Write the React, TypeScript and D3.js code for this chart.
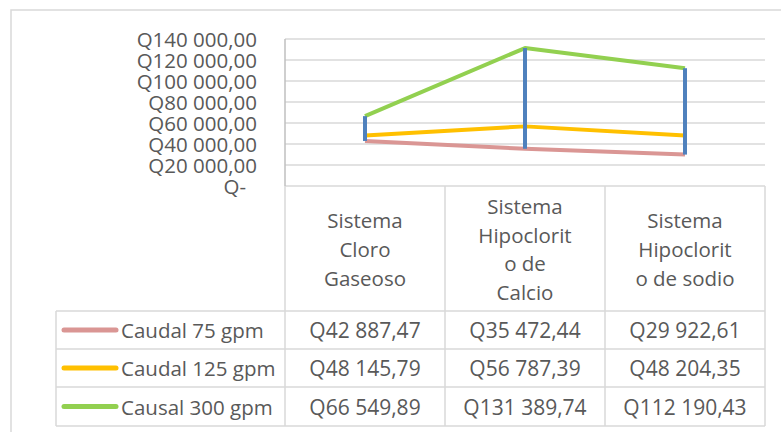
import React from "react";
import * as d3 from "d3";

const categories: string[][] = [
  ["Sistema", "Cloro", "Gaseoso"],
  ["Sistema", "Hipoclorit", "o de", "Calcio"],
  ["Sistema", "Hipoclorit", "o de sodio"],
];
const seriesNames = ["Caudal 75 gpm", "Caudal 125 gpm", "Causal 300 gpm"];
const caudal75 = [42887.47, 35472.44, 29922.61];
const caudal125 = [48145.79, 56787.39, 48204.35];
const causal300 = [66549.89, 131389.74, 112190.43];
const seriesColors = ["#DA9694", "#FFC000", "#92D050"];
const yTicks = [0, 20000, 40000, 60000, 80000, 100000, 120000, 140000];

const W = 781;
const H = 432;
const FONT = "'Open Sans', 'Noto Sans', sans-serif";
const TXT = "#595959";
const GRID = "#D9D9D9";

const locale = d3.formatLocale({
  decimal: ",",
  thousands: " ",
  grouping: [3],
  currency: ["Q", ""],
});
const fmt = locale.format("$,.2f");
const tickFmt = (v: number) => (v === 0 ? "Q-" : fmt(v));

export default function App() {
  const series = [caudal75, caudal125, causal300];
  const plotL = 285;
  const plotR = 765;
  const plotT = 39;
  const plotB = 186;
  const tableL = 56;
  const rowTops = [311, 349, 387, 426];

  const x = d3
    .scaleBand<number>()
    .domain(categories.map((_, i) => i))
    .range([plotL, plotR])
    .padding(0);
  const y = d3.scaleLinear().domain([0, 140000]).range([plotB, plotT]);
  const line = d3
    .line<number>()
    .x((_, i) => (x(i) as number) + x.bandwidth() / 2)
    .y((d) => y(d));

  const colEdges = [plotL, ...categories.map((_, i) => (x(i) as number) + x.bandwidth())];
  const lineH = 28.7;
  const headerMid = 249;

  return (
    <svg
      width={W}
      height={H}
      style={{ position: "absolute", left: 0, top: 0, background: "#fff" }}
      fontFamily={FONT}
    >
      <rect x={0} y={0} width={W} height={H} fill="#fff" />
      {/* outer border */}
      <path d={`M11,${H + 5} V10 H${W + 5}`} fill="none" stroke={GRID} strokeWidth={1.5} />

      {/* gridlines */}
      {yTicks.map((t) => (
        <line key={t} x1={plotL} x2={plotR} y1={y(t)} y2={y(t)} stroke={GRID} strokeWidth={1.5} />
      ))}
      <line x1={plotL} x2={plotL} y1={plotT} y2={plotB} stroke="#BFBFBF" strokeWidth={1.5} />

      {/* y tick labels */}
      {yTicks.map((t) => (
        <text
          key={t}
          x={t === 0 ? 246 : 257}
          y={y(t)}
          textAnchor="end"
          dominantBaseline="central"
          fontSize={20.5}
          fill={TXT}
        >
          {tickFmt(t)}
        </text>
      ))}

      {/* series lines */}
      {series.map((s, k) => (
        <path
          key={k}
          d={line(s) || ""}
          fill="none"
          stroke={seriesColors[k]}
          strokeWidth={4}
          strokeLinejoin="round"
        />
      ))}

      {/* high-low lines */}
      {categories.map((_, i) => {
        const vals = series.map((s) => s[i]);
        const cx = (x(i) as number) + x.bandwidth() / 2;
        return (
          <line
            key={i}
            x1={cx}
            x2={cx}
            y1={y(d3.min(vals) as number)}
            y2={y(d3.max(vals) as number)}
            stroke="#4F81BD"
            strokeWidth={4}
          />
        );
      })}

      {/* data table */}
      {colEdges.map((ex, i) => (
        <line key={i} x1={ex} x2={ex} y1={plotB} y2={rowTops[3]} stroke={GRID} strokeWidth={1.5} />
      ))}
      <line x1={tableL} x2={tableL} y1={rowTops[0]} y2={rowTops[3]} stroke={GRID} strokeWidth={1.5} />
      {rowTops.map((ry, i) => (
        <line key={i} x1={tableL} x2={plotR} y1={ry} y2={ry} stroke={GRID} strokeWidth={1.5} />
      ))}

      {/* header labels */}
      {categories.map((lines, i) => {
        const cx = (x(i) as number) + x.bandwidth() / 2;
        const start = headerMid - ((lines.length - 1) * lineH) / 2;
        return (
          <text key={i} textAnchor="middle" fontSize={20.5} fill={TXT}>
            {lines.map((l, j) => (
              <tspan key={j} x={cx} y={start + j * lineH} dominantBaseline="central">
                {l}
              </tspan>
            ))}
          </text>
        );
      })}

      {/* rows */}
      {series.map((s, k) => {
        const cy = (rowTops[k] + rowTops[k + 1]) / 2;
        return (
          <g key={k}>
            <line
              x1={64}
              x2={116}
              y1={cy}
              y2={cy}
              stroke={seriesColors[k]}
              strokeWidth={5}
              strokeLinecap="round"
            />
            <text x={121} y={cy} dominantBaseline="central" fontSize={20.5} fill={TXT}>
              {seriesNames[k]}
            </text>
            {s.map((v, i) => (
              <text
                key={i}
                x={(x(i) as number) + x.bandwidth() / 2}
                y={cy}
                textAnchor="middle"
                dominantBaseline="central"
                fontSize={21}
                fill={TXT}
              >
                {fmt(v)}
              </text>
            ))}
          </g>
        );
      })}
    </svg>
  );
}
